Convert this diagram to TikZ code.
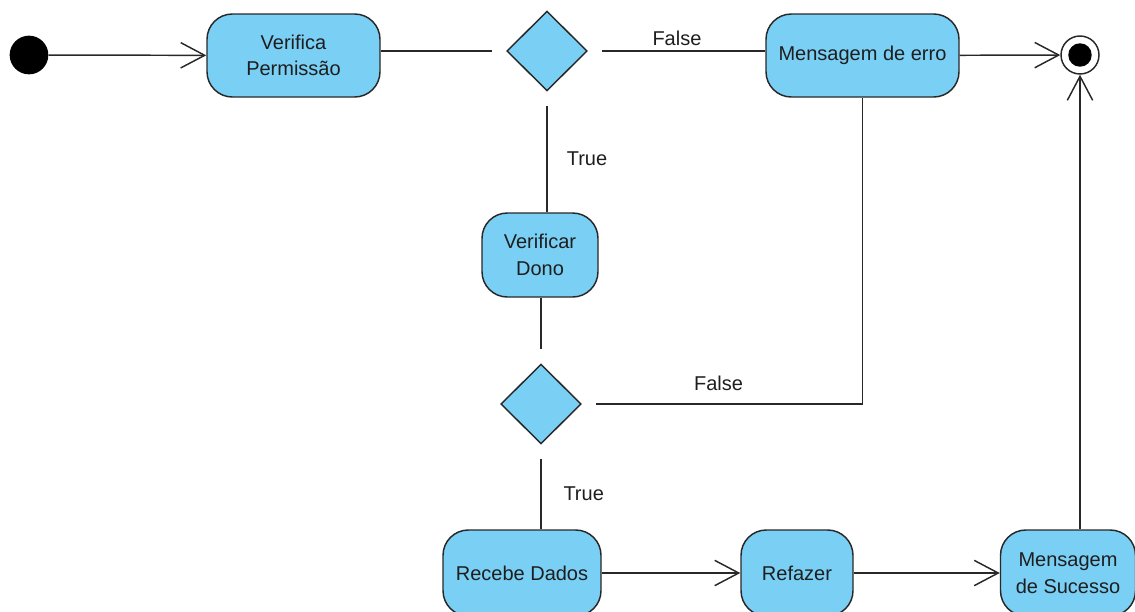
\documentclass[tikz,border=0pt]{standalone}
\usepackage{fontspec}
\setmainfont{Liberation Sans}
\usetikzlibrary{shapes.geometric,arrows.meta}
\definecolor{actfill}{RGB}{122,207,245}
\definecolor{ink}{RGB}{40,40,40}
\definecolor{txt}{RGB}{30,30,30}
\tikzset{
  act/.style={draw=ink, fill=actfill, line width=1.1pt, rounded corners=19pt,
    align=center, text=txt, font=\fontsize{15pt}{20pt}\selectfont, inner sep=0pt},
  decision/.style={diamond, draw=ink, fill=actfill, line width=1.1pt,
    minimum width=66.5pt, minimum height=66pt, inner sep=0pt, outer sep=8pt},
  conn/.style={draw=ink, line width=1.1pt},
  flow/.style={conn, -{Straight Barb[length=18pt,width=19pt,line width=1.1pt]}},
  lbl/.style={text=txt, font=\fontsize{15pt}{18pt}\selectfont},
}
\begin{document}
\begin{tikzpicture}[x=0.75pt,y=-0.75pt]
\useasboundingbox (0,0) rectangle (1135,611);
\clip (0,0) rectangle (1135,611);

\node[circle, fill=black, minimum size=29pt, inner sep=0pt] (start) at (29,55) {};
\node[act, minimum width=129.75pt, minimum height=62.25pt] (vp) at (293.5,55.5) {Verifica\\Permissão};
\node[decision] (d1) at (547,51) {};
\node[act, minimum width=144.75pt, minimum height=62.25pt] (mde) at (862.5,55.5) {Mensagem de erro};
\node[circle, draw=ink, fill=white, line width=1.1pt, minimum size=28.5pt, inner sep=0pt,
  path picture={\fill[black] (path picture bounding box.center) circle (8.8pt);}] (final) at (1080,55) {};
\node[act, minimum width=87pt, minimum height=63pt] (vd) at (540,255) {Verificar\\Dono};
\node[decision] (d2) at (541,404) {};
\node[act, minimum width=118.5pt, minimum height=64.5pt] (rd) at (522,573) {Recebe Dados};
\node[act, minimum width=84pt, minimum height=64.5pt] (rf) at (797,573) {Refazer};
\node[act, minimum width=101.25pt, minimum height=64.5pt] (ms) at (1068,573) {Mensagem\\de Sucesso};

\draw[flow] (start) -- (vp);
\draw[conn] (vp.east |- d1) -- (d1);
\draw[conn] (d1) -- node[lbl, above, xshift=-5pt] {False} (mde.west |- d1);
\draw[flow] (mde) -- (final);
\draw[conn] (d1) -- node[lbl, right, xshift=11pt] {True} (d1 |- vd.north);
\draw[conn] (d2 |- vd.south) -- (d2);
\draw[conn] (d2) -| node[lbl, above, pos=0.23, yshift=6pt] {False} (mde);
\draw[conn] (d2) -- node[lbl, right, xshift=13pt] {True} (d2 |- rd.north);
\draw[flow] (rd) -- (rf);
\draw[flow] (rf) -- (ms);
\draw[flow] (final |- ms.north) -- (final);
\end{tikzpicture}
\end{document}
